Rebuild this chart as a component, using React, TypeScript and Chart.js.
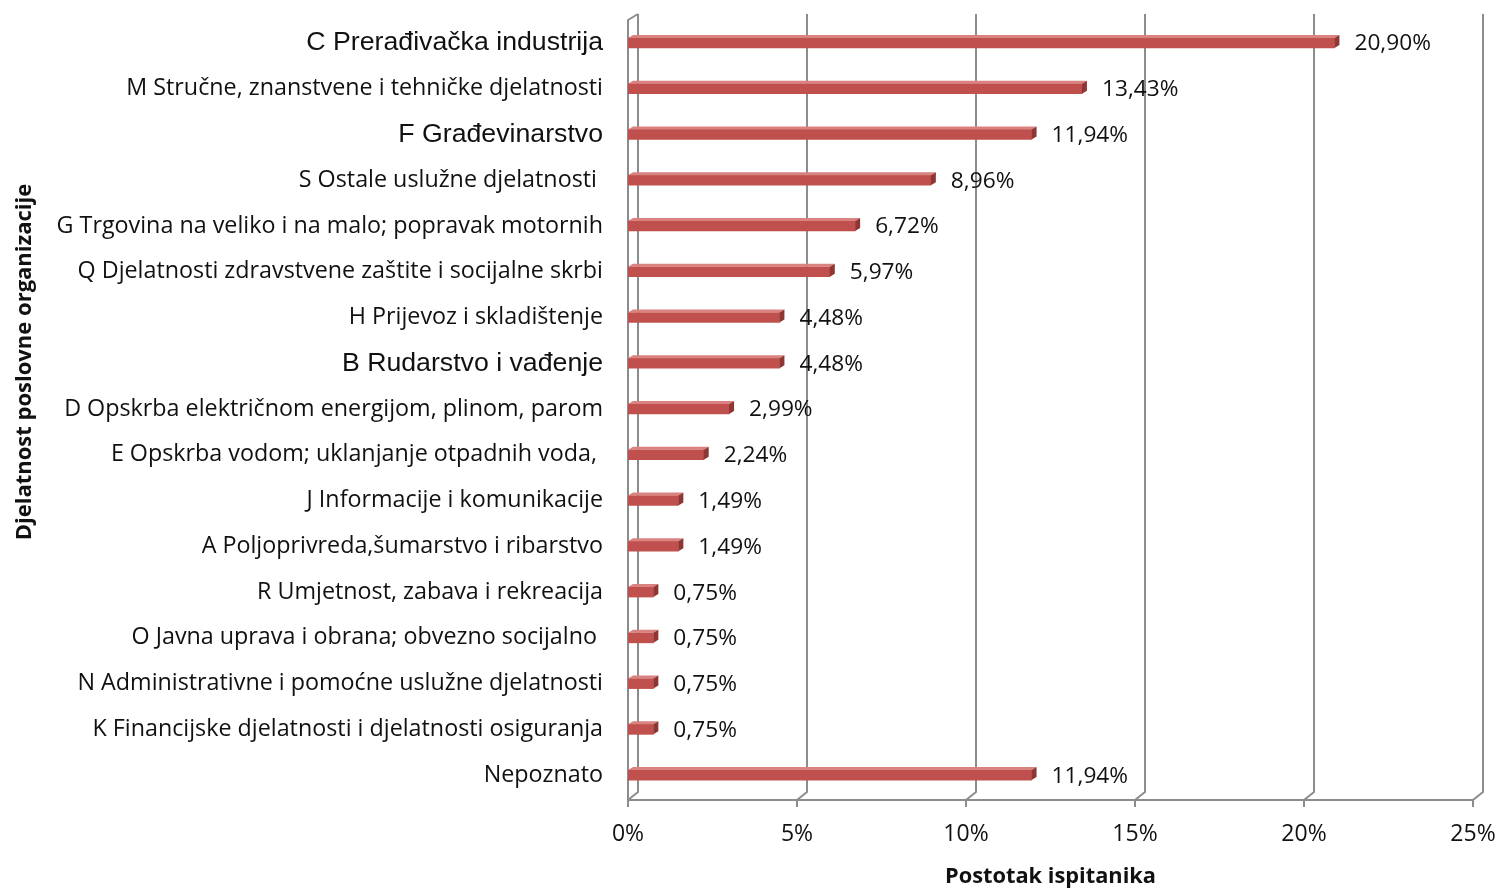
import React, { useEffect, useRef } from "react";
import { Chart, registerables } from "chart.js";

Chart.register(...registerables);

const categories = [
  "C Prerađivačka industrija",
  "M Stručne, znanstvene i tehničke djelatnosti",
  "F Građevinarstvo",
  "S Ostale uslužne djelatnosti ",
  "G Trgovina na veliko i na malo; popravak motornih",
  "Q Djelatnosti zdravstvene zaštite i socijalne skrbi",
  "H Prijevoz i skladištenje",
  "B Rudarstvo i vađenje",
  "D Opskrba električnom energijom, plinom, parom",
  "E Opskrba vodom; uklanjanje otpadnih voda, ",
  "J Informacije i komunikacije",
  "A Poljoprivreda,šumarstvo i ribarstvo",
  "R Umjetnost, zabava i rekreacija",
  "O Javna uprava i obrana; obvezno socijalno ",
  "N Administrativne i pomoćne uslužne djelatnosti",
  "K Financijske djelatnosti i djelatnosti osiguranja",
  "Nepoznato",
];

const values = [20.9, 13.43, 11.94, 8.96, 6.72, 5.97, 4.48, 4.48, 2.99, 2.24, 1.49, 1.49, 0.75, 0.75, 0.75, 0.75, 11.94];

const valueLabels = ["20,90%", "13,43%", "11,94%", "8,96%", "6,72%", "5,97%", "4,48%", "4,48%", "2,99%", "2,24%", "1,49%", "1,49%", "0,75%", "0,75%", "0,75%", "0,75%", "11,94%"];

const xTickValues = [0, 5, 10, 15, 20, 25];

const largeLabelIndices = [0, 2, 7];

const xTitle = "Postotak ispitanika";
const yTitle = "Djelatnost poslovne organizacije";

const GRID_COLOR = "#8c8c8c";
const BAR_FRONT = "#c0504d";
const BAR_TOP = "#d9827f";
const BAR_END = "#8f3533";

const wallPlugin = {
  id: "wall3d",
  beforeDatasetsDraw(chart: any) {
    const { ctx, chartArea, scales } = chart;
    const { left, right, top, bottom } = chartArea;
    const x = scales.x;
    const dx = 10;
    const dy = 8;
    const base = bottom + 2;
    ctx.save();
    ctx.strokeStyle = GRID_COLOR;
    ctx.lineWidth = 2;
    ctx.lineJoin = "round";
    ctx.beginPath();
    ctx.moveTo(left, base);
    ctx.lineTo(right, base);
    ctx.stroke();
    ctx.beginPath();
    ctx.moveTo(left, base);
    ctx.lineTo(left, top);
    ctx.lineTo(left + dx, top - 6);
    ctx.stroke();
    for (const v of xTickValues) {
      const px = x.getPixelForValue(v);
      ctx.beginPath();
      ctx.moveTo(px + dx, top - 6);
      ctx.lineTo(px + dx, base - dy);
      ctx.lineTo(px, base);
      ctx.lineTo(px, base + 7);
      ctx.stroke();
    }
    ctx.restore();
  },
};

const bar3dPlugin = {
  id: "bar3d",
  afterDatasetsDraw(chart: any) {
    const { ctx } = chart;
    const meta = chart.getDatasetMeta(0);
    const d = 5;
    const dh = 3;
    ctx.save();
    meta.data.forEach((bar: any, i: number) => {
      const { x, y, base, height } = bar.getProps(["x", "y", "base", "height"], true);
      const t = y - height / 2;
      const b = y + height / 2;
      ctx.fillStyle = BAR_TOP;
      ctx.beginPath();
      ctx.moveTo(base, t);
      ctx.lineTo(base + d, t - dh);
      ctx.lineTo(x + d, t - dh);
      ctx.lineTo(x, t);
      ctx.closePath();
      ctx.fill();
      ctx.fillStyle = BAR_END;
      ctx.beginPath();
      ctx.moveTo(x, t);
      ctx.lineTo(x + d, t - dh);
      ctx.lineTo(x + d, b - dh);
      ctx.lineTo(x, b);
      ctx.closePath();
      ctx.fill();
      ctx.fillStyle = "#111";
      ctx.font = "22.7px 'Open Sans'";
      ctx.textAlign = "left";
      ctx.textBaseline = "middle";
      ctx.fillText(valueLabels[i], x + 20, y + 1);
    });
    ctx.restore();
  },
};

const yTitlePlugin = {
  id: "yTitle",
  afterDraw(chart: any) {
    const { ctx } = chart;
    ctx.save();
    ctx.translate(25, 362);
    ctx.rotate(-Math.PI / 2);
    ctx.fillStyle = "#111";
    ctx.font = "bold 22px 'Open Sans'";
    ctx.textAlign = "center";
    ctx.textBaseline = "middle";
    ctx.fillText(yTitle, 0, 0);
    ctx.restore();
  },
};

export default function App() {
  const canvasRef = useRef<HTMLCanvasElement | null>(null);

  useEffect(() => {
    if (!canvasRef.current) return;
    const chart = new Chart(canvasRef.current, {
      type: "bar",
      data: {
        labels: categories,
        datasets: [
          {
            data: values,
            backgroundColor: BAR_FRONT,
            barThickness: 10,
            borderWidth: 0,
          },
        ],
      },
      options: {
        indexAxis: "y",
        animation: false,
        responsive: false,
        maintainAspectRatio: false,
        layout: { padding: { left: 0, right: 27, top: 20, bottom: 0 } },
        plugins: {
          legend: { display: false },
          tooltip: { enabled: false },
        },
        scales: {
          x: {
            min: 0,
            max: 25,
            grid: { display: false, drawTicks: false },
            border: { display: false },
            ticks: {
              stepSize: 5,
              padding: 23,
              color: "#111",
              font: { family: "'Open Sans'", size: 23 },
              callback: (v: any) => `${v}%`,
            },
            title: {
              display: true,
              text: xTitle,
              color: "#111",
              font: { family: "'Open Sans'", size: 21.8, weight: "bold" },
              padding: { top: 0, bottom: 0 },
            },
            afterFit: (scale: any) => {
              scale.height = 92;
              scale.paddingLeft = 0;
              scale.paddingRight = 0;
              scale.paddingTop = 0;
              scale.paddingBottom = 0;
            },
          },
          y: {
            grid: { display: false, drawTicks: false },
            border: { display: false },
            ticks: {
              padding: 25,
              color: "#111",
              font: (c: any) =>
                largeLabelIndices.includes(c.index)
                  ? { family: "'Liberation Sans'", size: 26.7 }
                  : { family: "'Open Sans'", size: 23.3 },
            },
            afterFit: (scale: any) => {
              scale.width = 628;
              scale.paddingLeft = 0;
              scale.paddingRight = 0;
              scale.paddingTop = 0;
              scale.paddingBottom = 0;
            },
          },
        },
      },
      plugins: [wallPlugin, bar3dPlugin, yTitlePlugin],
    });
    return () => chart.destroy();
  }, []);

  return (
    <div style={{ position: "fixed", left: 0, top: 0, width: 1500, height: 890, background: "#fff" }}>
      <canvas ref={canvasRef} width={1500} height={890} style={{ width: 1500, height: 890 }} />
    </div>
  );
}
